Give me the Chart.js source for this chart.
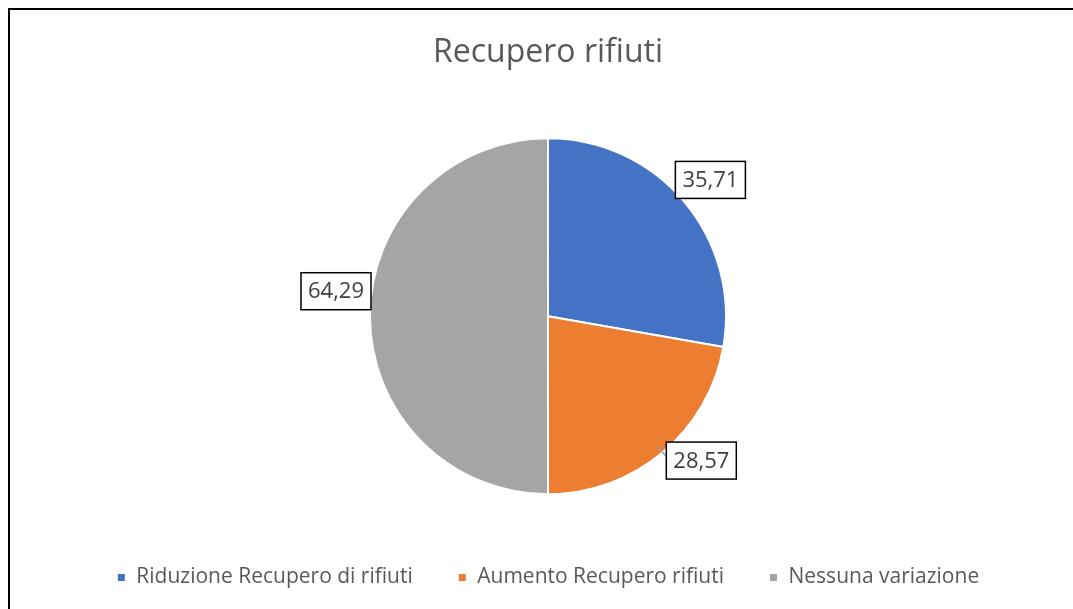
<!DOCTYPE html>
<html>
<head>
<meta charset="utf-8">
<script src="https://cdn.jsdelivr.net/npm/chart.js@4"></script>
<style>
  html, body { margin: 0; padding: 0; background: #fff; overflow: hidden; }
  #frame {
    position: absolute; left: 8px; top: 8px; width: 1080px; height: 610px;
    border-left: 2px solid #000; border-top: 2px solid #000;
  }
  #wrap { position: absolute; left: 0; top: 0; width: 1076px; height: 600px; }
</style>
</head>
<body>
<div id="frame"><div id="wrap"><canvas id="chart"></canvas></div></div>
<script>
// data
const categories = ['Riduzione Recupero di rifiuti', 'Aumento Recupero rifiuti', 'Nessuna variazione'];
const values = [35.71, 28.57, 64.29];
const colors = ['#4472C4', '#ED7D31', '#A5A5A5'];
// nudge of each label from its slice's mid-angle (Excel best-fit placement)
const labelNudgeX = [0, 17, 0];
const labelNudgeY = [0, -18, -25];
const showLeader = [false, true, false];

// value labels in boxes, placed outside the slices
const boxLabels = {
  id: 'boxLabels',
  afterDatasetsDraw(chart) {
    const c = chart.ctx;
    const meta = chart.getDatasetMeta(0);
    c.save();
    c.font = '22px "Open Sans", sans-serif';
    c.textAlign = 'center';
    c.textBaseline = 'middle';
    meta.data.forEach((arc, i) => {
      const mid = (arc.startAngle + arc.endAngle) / 2;
      const r = arc.outerRadius + 34;
      const x = arc.x + Math.cos(mid) * r + labelNudgeX[i];
      const y = arc.y + Math.sin(mid) * r + labelNudgeY[i];
      const txt = values[i].toFixed(2).replace('.', ',');
      const w = c.measureText(txt).width + 14;
      const h = 37;
      if (showLeader[i]) {
        const ex = arc.x + Math.cos(mid) * (arc.outerRadius - 8);
        const ey = arc.y + Math.sin(mid) * (arc.outerRadius - 8);
        c.strokeStyle = '#A5A5A5';
        c.lineWidth = 1.5;
        c.beginPath();
        c.moveTo(ex, ey);
        c.lineTo(x - w / 2, y - 4);
        c.stroke();
      }
      c.fillStyle = '#fff';
      c.fillRect(x - w / 2, y - h / 2, w, h);
      c.strokeStyle = '#000';
      c.lineWidth = 1.5;
      c.strokeRect(x - w / 2, y - h / 2, w, h);
      c.fillStyle = '#404040';
      c.fillText(txt, x, y + 1);
    });
    c.restore();
  }
};

const ctx = document.getElementById('chart').getContext('2d');
new Chart(ctx, {
  type: 'pie',
  data: {
    labels: categories,
    datasets: [{
      data: values,
      backgroundColor: colors,
      borderColor: '#fff',
      borderWidth: 2
    }]
  },
  options: {
    responsive: true,
    maintainAspectRatio: false,
    animation: false,
    radius: 178,
    layout: { padding: { top: 0, bottom: 12, left: 0, right: 0 } },
    plugins: {
      title: {
        display: true,
        text: 'Recupero rifiuti',
        color: '#595959',
        font: { family: '"Open Sans", sans-serif', size: 32, weight: 'normal' },
        padding: { top: 24, bottom: 38 }
      },
      legend: {
        position: 'bottom',
        labels: {
          color: '#595959',
          font: { family: '"Open Sans", sans-serif', size: 21 },
          boxWidth: 9,
          boxHeight: 9,
          padding: 45
        }
      },
      tooltip: { enabled: false }
    }
  },
  plugins: [boxLabels]
});
</script>
</body>
</html>
